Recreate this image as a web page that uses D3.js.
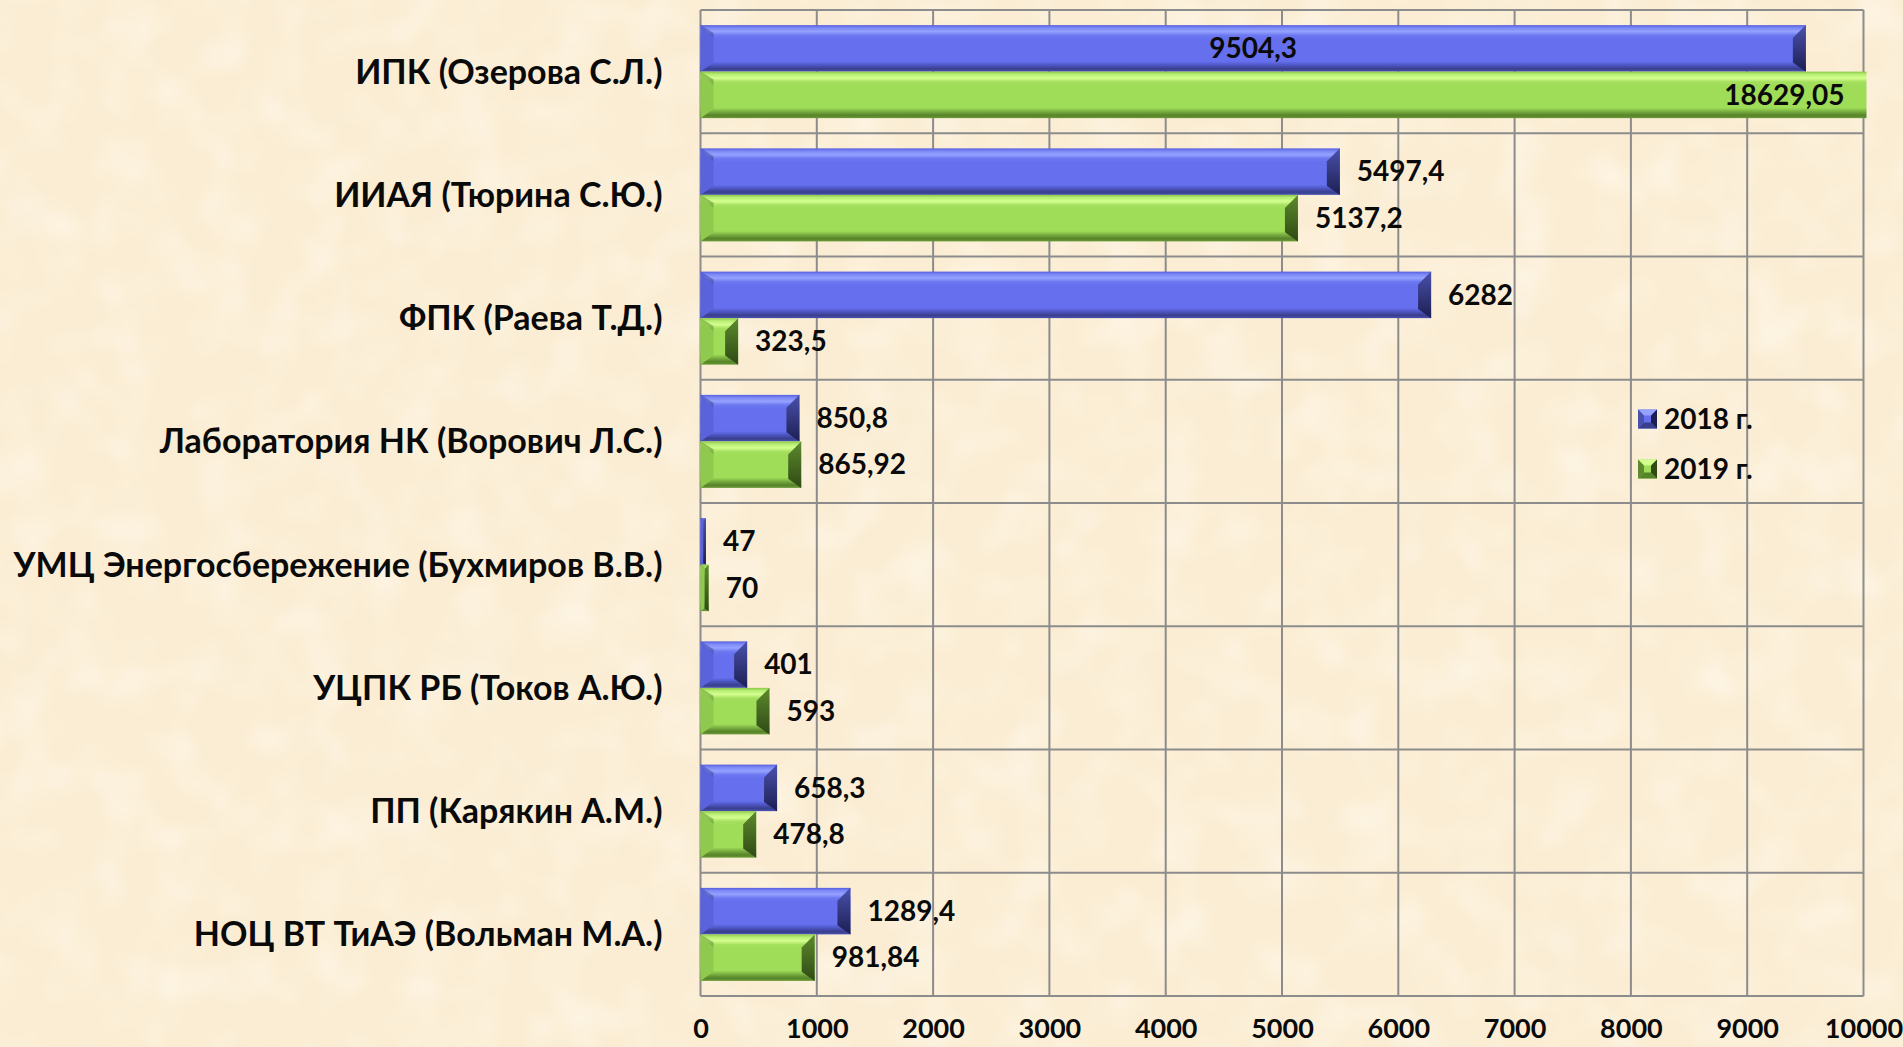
<!DOCTYPE html>
<html>
<head>
<meta charset="utf-8">
<script src="https://cdn.jsdelivr.net/npm/d3@7"></script>
<style>
  html, body { margin: 0; padding: 0; background: #fbedd3; }
  svg { display: block; }
  text { font-family: Lato, "Open Sans", sans-serif; font-weight: 700; fill: #0a0a0a; }
</style>
</head>
<body>
<div id="chart"></div>
<script>
var categories = [
  "ИПК (Озерова С.Л.)",
  "ИИАЯ (Тюрина С.Ю.)",
  "ФПК (Раева Т.Д.)",
  "Лаборатория НК (Ворович Л.С.)",
  "УМЦ Энергосбережение (Бухмиров В.В.)",
  "УЦПК РБ (Токов А.Ю.)",
  "ПП (Карякин А.М.)",
  "НОЦ ВТ ТиАЭ (Вольман М.А.)"
];
var series = ["2018 г.", "2019 г."];
var values2018 = [9504.3, 5497.4, 6282, 850.8, 47, 401, 658.3, 1289.4];
var values2019 = [18629.05, 5137.2, 323.5, 865.92, 70, 593, 478.8, 981.84];
var tickValues = [0, 1000, 2000, 3000, 4000, 5000, 6000, 7000, 8000, 9000, 10000];

var width = 1903;
var height = 1047;

var svg = d3.select("#chart").append("svg")
    .attr("width", width)
    .attr("height", height);

var defs = svg.append("defs");

// parchment texture
var tex = defs.append("filter").attr("id", "paper")
    .attr("x", 0).attr("y", 0).attr("width", "100%").attr("height", "100%");
tex.append("feTurbulence")
    .attr("type", "fractalNoise")
    .attr("baseFrequency", "0.011")
    .attr("numOctaves", 3)
    .attr("seed", 7);
tex.append("feColorMatrix")
    .attr("type", "matrix")
    .attr("values", "0 0 0 0 0.93  0 0 0 0 0.84  0 0 0 0 0.68  0.7 0 0 0 -0.33");

var tex2 = defs.append("filter").attr("id", "paper2")
    .attr("x", 0).attr("y", 0).attr("width", "100%").attr("height", "100%");
tex2.append("feTurbulence")
    .attr("type", "fractalNoise")
    .attr("baseFrequency", "0.02")
    .attr("numOctaves", 2)
    .attr("seed", 19);
tex2.append("feColorMatrix")
    .attr("type", "matrix")
    .attr("values", "0 0 0 0 1  0 0 0 0 0.98  0 0 0 0 0.93  0.9 0 0 0 -0.38");

svg.append("rect").attr("width", width).attr("height", height).attr("fill", "#fbedd3");
svg.append("rect").attr("width", width).attr("height", height).attr("filter", "url(#paper)");
svg.append("rect").attr("width", width).attr("height", height).attr("filter", "url(#paper2)");

// colours for the bevelled bars
var palette = [
  { top: ["#565fdc", "#7d89f8", "#95a2ff", "#6c77f0", "#6670ee", "#6670ee", "#4e56c4", "#393f8c", "#4850b4"],
    left: "#5a63dc", right: ["#4a51ac", "#1c1f52"] },
  { top: ["#8cc84a", "#b8ee74", "#d4ff90", "#a5e05e", "#9fdc58", "#9fdc58", "#78ad40", "#56832a", "#6a9a36"],
    left: "#8fc94e", right: ["#5c8a2c", "#2f4a15"] }
];
var stops = [0, 0.06, 0.14, 0.22, 0.3, 0.78, 0.86, 0.94, 1];

palette.forEach(function(p, i) {
  var g = defs.append("linearGradient").attr("id", "face" + i)
      .attr("x1", 0).attr("y1", 0).attr("x2", 0).attr("y2", 1);
  stops.forEach(function(s, k) {
    g.append("stop").attr("offset", s).attr("stop-color", p.top[k]);
  });
  var r = defs.append("linearGradient").attr("id", "end" + i)
      .attr("x1", 0).attr("y1", 0).attr("x2", 0).attr("y2", 1);
  r.append("stop").attr("offset", 0).attr("stop-color", p.right[0]);
  r.append("stop").attr("offset", 1).attr("stop-color", p.right[1]);
});

var x = d3.scaleLinear()
    .domain([0, 10000])
    .range([700.5, 1863.5]);

var y = d3.scaleBand()
    .domain(categories)
    .range([10, 996])
    .padding(0);

var ys = d3.scaleBand()
    .domain(series)
    .range([0, y.bandwidth()])
    .paddingInner(0)
    .paddingOuter(0.325);

// grid
var grid = svg.append("g").attr("stroke", "#8c8c8c").attr("stroke-width", 2).attr("fill", "none");
grid.selectAll(".vline")
    .data(tickValues)
    .enter().append("line")
    .attr("x1", function(d) { return x(d); })
    .attr("x2", function(d) { return x(d); })
    .attr("y1", y.range()[0])
    .attr("y2", y.range()[1]);
grid.selectAll(".hline")
    .data(categories.concat(["end"]))
    .enter().append("line")
    .attr("x1", x.range()[0])
    .attr("x2", x.range()[1])
    .attr("y1", function(d, i) { return i < categories.length ? y(d) : y.range()[1]; })
    .attr("y2", function(d, i) { return i < categories.length ? y(d) : y.range()[1]; });

// x axis labels
var xAxis = d3.axisBottom(x)
    .tickValues(tickValues)
    .tickSize(0)
    .tickPadding(0)
    .tickFormat(d3.format("d"));

var axisG = svg.append("g")
    .attr("transform", "translate(0," + y.range()[1] + ")")
    .call(xAxis);
axisG.select(".domain").remove();
axisG.selectAll("text")
    .attr("y", 33)
    .attr("dy", "0.35em")
    .style("font-size", "27px")
    .style("font-family", "Lato, sans-serif")
    .style("font-weight", 700)
    .attr("fill", "#0a0a0a");

// category labels
var yAxis = d3.axisLeft(y).tickSize(0).tickPadding(0);
var yG = svg.append("g")
    .attr("transform", "translate(" + (x.range()[0] - 38) + ",0)")
    .call(yAxis);
yG.select(".domain").remove();
yG.selectAll("text")
    .attr("dy", "0.35em")
    .style("font-size", "34px")
    .style("font-family", "Lato, sans-serif")
    .style("font-weight", 700)
    .attr("fill", "#0a0a0a");

// bars
var rows = [];
categories.forEach(function(c, i) {
  rows.push({ cat: c, s: 0, v: values2018[i] });
  rows.push({ cat: c, s: 1, v: values2019[i] });
});

function fmt(v) { return String(v).replace(".", ","); }

var bars = svg.append("g").selectAll("g")
    .data(rows)
    .enter().append("g")
    .each(function(d) {
      var g = d3.select(this);
      var x0 = x(0);
      var x1 = x(Math.min(d.v, x.domain()[1]));
      if (d.v > x.domain()[1]) x1 += 3;
      var y0 = y(d.cat) + ys(series[d.s]);
      var h = ys.bandwidth();
      var y1 = y0 + h;
      var w = x1 - x0;
      var b = Math.min(13, w / 2);
      var p = palette[d.s];

      g.append("rect")
          .attr("x", x0).attr("y", y0)
          .attr("width", w).attr("height", h)
          .attr("fill", "url(#face" + d.s + ")");
      g.append("polygon")
          .attr("points", [[x0, y0], [x0 + b, y0 + b], [x0 + b, y1 - b * 0.7], [x0, y1]].join(" "))
          .attr("fill", p.left);
      g.append("polygon")
          .attr("points", [[x0, y0], [x0 + b, y0 + b], [x0 + b, y0 + b * 0.6]].join(" "))
          .attr("fill", p.top[7]).attr("opacity", 0.5);
      if (d.v <= x.domain()[1]) {
        g.append("polygon")
            .attr("points", [[x1, y0], [x1 - b, y0 + b], [x1 - b, y1 - b * 0.7], [x1, y1]].join(" "))
            .attr("fill", "url(#end" + d.s + ")");
      }

      // value label
      var label = g.append("text")
          .text(fmt(d.v))
          .attr("y", y0 + h / 2)
          .attr("dy", "0.35em")
          .style("font-size", "28px");
      var tw = label.node().getComputedTextLength();
      if (d.v > x.domain()[1]) {
        label.attr("x", x1 - 22).attr("text-anchor", "end");
      } else if (x1 + 17 + tw > x.range()[1]) {
        label.attr("x", (x0 + x1) / 2).attr("text-anchor", "middle");
      } else {
        label.attr("x", x1 + 17).attr("text-anchor", "start");
      }
    });

// legend
var legend = svg.append("g")
    .attr("transform", "translate(1638,419)");
var li = legend.selectAll("g")
    .data(series)
    .enter().append("g")
    .attr("transform", function(d, i) { return "translate(0," + (i * 50) + ")"; });
li.each(function(d, i) {
  var g = d3.select(this);
  var s = 19, b = 6;
  var p = palette[i];
  g.append("rect").attr("x", 0).attr("y", -s / 2).attr("width", s).attr("height", s)
      .attr("fill", p.top[4]);
  g.append("polygon").attr("points", [[0, -s / 2], [s, -s / 2], [s - b, -s / 2 + b], [b, -s / 2 + b]].join(" "))
      .attr("fill", p.top[2]);
  g.append("polygon").attr("points", [[0, s / 2], [s, s / 2], [s - b, s / 2 - b], [b, s / 2 - b]].join(" "))
      .attr("fill", p.top[7]);
  g.append("polygon").attr("points", [[0, -s / 2], [b, -s / 2 + b], [b, s / 2 - b], [0, s / 2]].join(" "))
      .attr("fill", p.right[0]);
  g.append("polygon").attr("points", [[s, -s / 2], [s - b, -s / 2 + b], [s - b, s / 2 - b], [s, s / 2]].join(" "))
      .attr("fill", p.right[1]);
  g.append("text").attr("x", 26).attr("dy", "0.35em").style("font-size", "28px").text(d);
});
</script>
</body>
</html>
